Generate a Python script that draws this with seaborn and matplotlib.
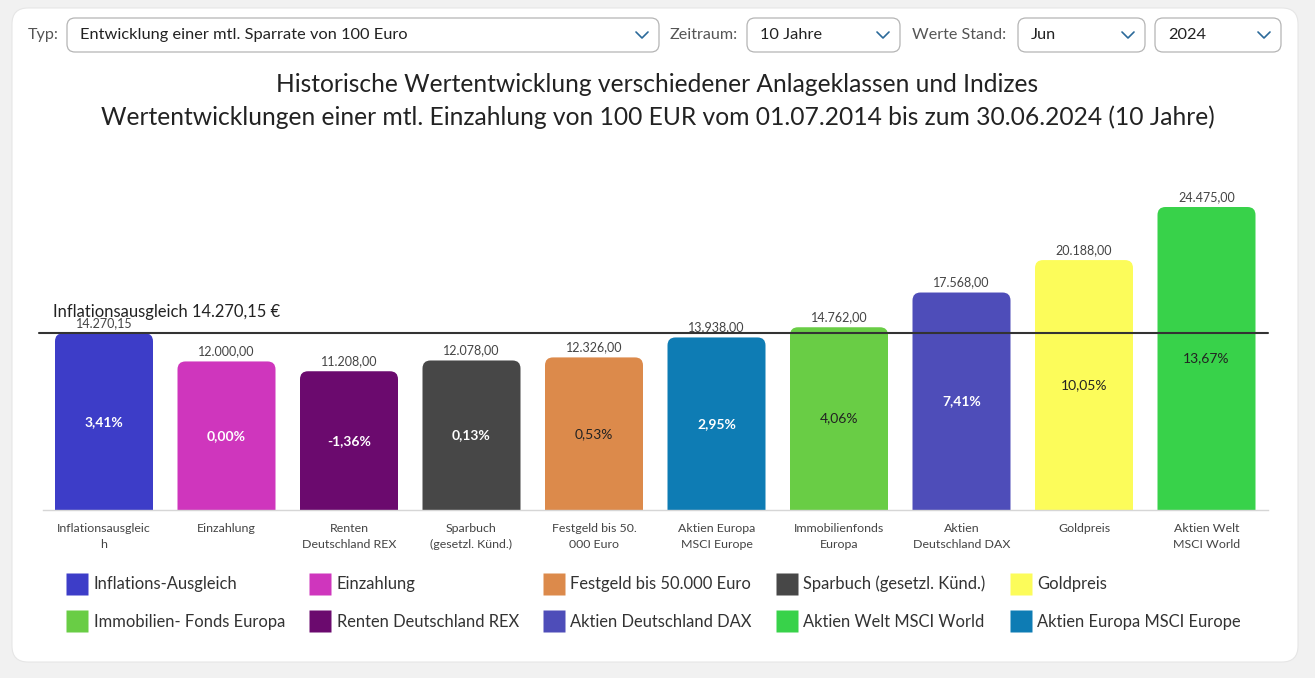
import matplotlib
matplotlib.use("Agg")
import matplotlib.pyplot as plt
import matplotlib.transforms as mtransforms
from matplotlib.patches import FancyBboxPatch
from matplotlib.lines import Line2D
import seaborn as sns
import pandas as pd

# ------------------------------------------------------------
# Data
# ------------------------------------------------------------
categories = [
    "Inflationsausgleich", "Einzahlung", "Renten Deutschland REX",
    "Sparbuch (gesetzl. Künd.)", "Festgeld bis 50.000 Euro",
    "Aktien Europa MSCI Europe", "Immobilienfonds Europa",
    "Aktien Deutschland DAX", "Goldpreis", "Aktien Welt MSCI World",
]
tick_labels = [
    "Inflationsausgleic\nh", "Einzahlung", "Renten\nDeutschland REX",
    "Sparbuch\n(gesetzl. Künd.)", "Festgeld bis 50.\n000 Euro",
    "Aktien Europa\nMSCI Europe", "Immobilienfonds\nEuropa",
    "Aktien\nDeutschland DAX", "Goldpreis", "Aktien Welt\nMSCI World",
]
end_values = [14270.15, 12000.00, 11208.00, 12078.00, 12326.00,
              13938.00, 14762.00, 17568.00, 20188.00, 24475.00]
annual_returns = [3.41, 0.00, -1.36, 0.13, 0.53, 2.95, 4.06, 7.41, 10.05, 13.67]
inflation_value = 14270.15

bar_colors = ["#3d3dc8", "#cf36bd", "#6b0a6e", "#474747", "#dc8a4b",
              "#0e7cb4", "#69cd45", "#4e4db9", "#fcfc5a", "#38d24a"]
pct_colors = ["white", "white", "white", "white", "#222222",
              "white", "#222222", "white", "#222222", "#222222"]

legend_labels = [
    "Inflations-Ausgleich", "Immobilien- Fonds Europa",
    "Einzahlung", "Renten Deutschland REX",
    "Festgeld bis 50.000 Euro", "Aktien Deutschland DAX",
    "Sparbuch (gesetzl. Künd.)", "Aktien Welt MSCI World",
    "Goldpreis", "Aktien Europa MSCI Europe",
]
legend_colors = ["#3d3dc8", "#69cd45", "#cf36bd", "#6b0a6e", "#dc8a4b",
                 "#4e4db9", "#474747", "#38d24a", "#fcfc5a", "#0e7cb4"]

controls = [("Typ:", "Entwicklung einer mtl. Sparrate von 100 Euro", 28, 67, 659),
            ("Zeitraum:", "10 Jahre", 670, 747, 900),
            ("Werte Stand:", "Jun", 912, 1018, 1145),
            ("", "2024", 1155, 1155, 1281)]

title_1 = "Historische Wertentwicklung verschiedener Anlageklassen und Indizes"
title_2 = ("Wertentwicklungen einer mtl. Einzahlung von 100 EUR vom "
           "01.07.2014 bis zum 30.06.2024 (10 Jahre)")


def de(v, d=2):
    s = f"{v:,.{d}f}"
    return s.replace(",", "X").replace(".", ",").replace("X", ".")


# ------------------------------------------------------------
# Figure setup
# ------------------------------------------------------------
sns.set_theme(style="white")
plt.rcParams["font.family"] = ["Lato", "DejaVu Sans"]

W, H = 1315, 678
fig = plt.figure(figsize=(W / 100, H / 100), dpi=100)
fig.patch.set_facecolor("#f1f1f1")
px = mtransforms.Affine2D().scale(1 / W, -1 / H).translate(0, 1) + fig.transFigure

# white card
fig.add_artist(FancyBboxPatch((12, 8), 1286, 654, boxstyle="round,pad=0,rounding_size=16",
                              transform=px, fc="white", ec="#e6e6e6", lw=0.8, zorder=0))

# dropdown controls
for label, value, lx, x0, x1 in controls:
    if label:
        fig.text(lx / W, 1 - 35 / H, label, fontsize=11.6, color="#555555", va="center")
    fig.add_artist(FancyBboxPatch((x0, 18), x1 - x0, 34, boxstyle="round,pad=0,rounding_size=8",
                                  transform=px, fc="white", ec="#b5b5b5", lw=0.9))
    fig.text((x0 + 13) / W, 1 - 35 / H, value, fontsize=11.8, color="#222222", va="center")
    cx = x1 - 17
    fig.add_artist(Line2D([cx - 6, cx, cx + 6], [32, 38, 32], transform=px,
                          color="#2b6a9a", lw=1.2))

fig.text(0.5, 1 - 84 / H, title_1, fontsize=17.7, color="#222222", ha="center", va="center")
fig.text(0.5, 1 - 117 / H, title_2, fontsize=17.7, color="#222222", ha="center", va="center")

# ------------------------------------------------------------
# Bars
# ------------------------------------------------------------
ax = fig.add_axes([42.75 / W, 1 - 510 / H, 1225 / W, 360 / H])
ax.set_facecolor("none")

df = pd.DataFrame({"cat": categories, "value": end_values})
sns.barplot(data=df, x="cat", y="value", hue="cat", palette=bar_colors,
            legend=False, width=0.8, saturation=1, ax=ax)

ax.set_xlim(-0.5, 9.5)
ax.set_ylim(0, 29080)

rx = 8 / 122.5
ry = 8 * 29080 / 360
for cont, lab, pct, pc in zip(ax.containers, end_values, annual_returns, pct_colors):
    ax.bar_label(cont, labels=[de(lab)], padding=3, fontsize=9, color="#444444")
    bar = cont.patches[0]
    x, w, h = bar.get_x(), bar.get_width(), bar.get_height()
    bar.set_visible(False)
    ax.add_patch(FancyBboxPatch((x, -ry), w, h + ry,
                                boxstyle=f"round,pad=0,rounding_size={rx}",
                                mutation_aspect=ry / rx, fc=bar.get_facecolor(),
                                ec="none", zorder=2))
    ax.text(x + w / 2, h / 2, de(pct) + "%", ha="center", va="center", fontsize=10,
            color=pc, fontweight="bold" if pc == "white" else "normal", zorder=3)

# inflation line
ax.axhline(inflation_value, xmin=-0.003, xmax=1, color="#333333", lw=1.5,
           clip_on=False, zorder=4)
ax.annotate(f"Inflationsausgleich {de(inflation_value)} €",
            xy=(0, inflation_value), xycoords=ax.get_yaxis_transform(),
            xytext=(10, 21), textcoords="offset pixels", fontsize=11.9,
            color="#222222", va="center")

ax.set_xticks(range(len(tick_labels)))
ax.set_xticklabels(tick_labels, fontsize=8.9, color="#444444", linespacing=1.5)
ax.tick_params(axis="x", length=0, pad=9.5)
ax.set_yticks([])
ax.set_xlabel("")
ax.set_ylabel("")
for side in ["top", "left", "right"]:
    ax.spines[side].set_visible(False)
ax.spines["bottom"].set_color("#d6d6d6")
ax.spines["bottom"].set_linewidth(1)

# ------------------------------------------------------------
# Legend
# ------------------------------------------------------------
handles = [Line2D([], [], marker="s", ls="none", markersize=16,
                  markerfacecolor=c, markeredgecolor="none") for c in legend_colors]
fig.legend(handles, legend_labels, ncol=5, loc="upper left",
           bbox_to_anchor=(54 / W, 1 - 561 / H), frameon=False, fontsize=11.9,
           handlelength=1.0, handletextpad=0.5, columnspacing=1.62,
           labelspacing=1.3, labelcolor="#333333")

plt.savefig("out.png", dpi=100)
